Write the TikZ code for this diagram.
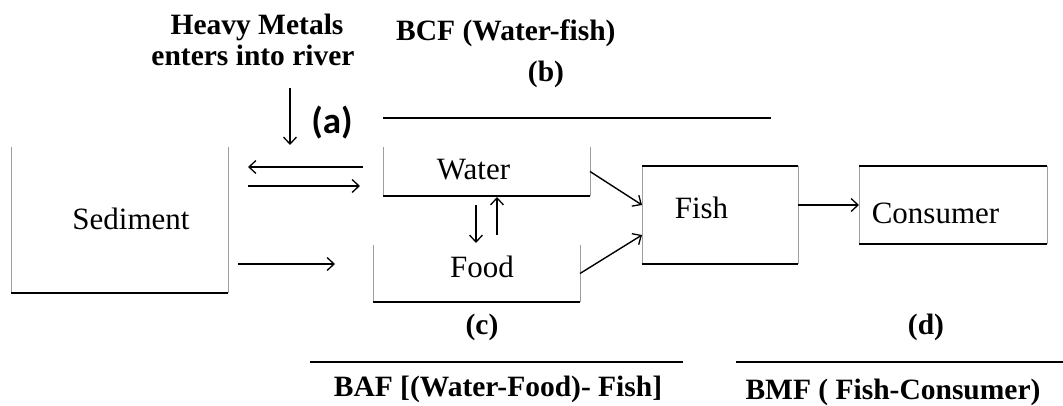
\documentclass[tikz,border=0pt]{standalone}
\usepackage{fontspec}
\setmainfont{Liberation Serif}
\newfontfamily\calib{Carlito}
\usetikzlibrary{arrows.meta,calc}
\begin{document}
\begin{tikzpicture}[x=1pt,y=-1pt,
  side/.style={draw=black!38, line width=1pt},
  rim/.style={draw=black, line width=1.3pt},
  thickrim/.style={draw=black, line width=2pt},
  box/.style={rectangle, inner sep=0pt, outer sep=0pt},
  flow/.style={-{Straight Barb[length=7pt,width=13pt,line width=1.3pt]}, line width=1.4pt},
  lbl/.style={font=\fontsize{31}{36}\selectfont, inner sep=0pt, anchor=base},
  note/.style={font=\bfseries\fontsize{29.5}{36}\selectfont, inner sep=0pt, anchor=base},
]
\useasboundingbox (0,0) rectangle (1063,406);
\fill[white] (0,0) rectangle (1063,406);

% boxes
\node[box, minimum width=217pt, minimum height=146pt] (sed) at (119.5,220) {};
\node[box, minimum width=207pt, minimum height=49pt] (water) at (486.5,171.5) {};
\node[box, minimum width=207pt, minimum height=57pt] (food) at (476.5,273.5) {};
\node[box, minimum width=156pt, minimum height=98pt] (fish) at (720,215) {};
\node[box, minimum width=188pt, minimum height=78pt] (cons) at (953,205) {};

% box borders
\draw[side] (sed.north west) -- (sed.south west);
\draw[side] (sed.north east) -- (sed.south east);
\draw[rim] (sed.south west) -- (sed.south east);
\draw[side] (water.north west) -- (water.south west);
\draw[side] (water.north east) -- (water.south east);
\draw[thickrim] (water.south west) -- (water.south east);
\draw[side] (food.north west) -- (food.south west);
\draw[side] (food.north east) -- (food.south east);
\draw[thickrim] (food.south west) -- (food.south east);
\draw[side] (fish.north west) -- (fish.south west);
\draw[side] (fish.north east) -- (fish.south east);
\draw[rim] (fish.north west) -- (fish.north east);
\draw[rim] (fish.south west) -- (fish.south east);
\draw[side] (cons.north west) -- (cons.south west);
\draw[side] (cons.north east) -- (cons.south east);
\draw[rim] (cons.north west) -- (cons.north east);
\draw[rim] (cons.south west) -- (cons.south east);

% box texts
\node[lbl] (sedt) at (131,230) {Sediment};
\node[lbl] (watert) at (473.5,180) {Water};
\node[lbl] (foodt) at (482,277) {Food};
\node[lbl] (fisht) at (701.5,219) {Fish};
\node[lbl] (const) at (935.5,224) {Consumer};

% annotations
\node[note] (hm1) at (257,35) {Heavy Metals};
\node[note] (hm2) at (253,66) {enters into river};
\node[font=\calib\bfseries\fontsize{37}{40}\selectfont, inner sep=0pt] (lbla) at (332,123) {(a)};
\node[note, anchor=base west] (bcf) at (396,41) {BCF (Water-fish)};
\node[note] (lblb) at (546,82) {(b)};
\node[note] (lblc) at (482,334) {(c)};
\node[note] (lbld) at (926,334) {(d)};
\node[note] (baf) at (498,396) {BAF [(Water-Food)- Fish]};
\node[note] (bmf) at (893,399) {BMF ( Fish-Consumer)};

% bracket lines
\coordinate (b1) at (383,118);
\coordinate (b2) at (771,118);
\draw[thickrim] (b1) -- (b2);
\coordinate (c1) at (310,362);
\coordinate (c2) at (683,362);
\draw[rim] (c1) -- (c2);
\coordinate (d1) at (736,362);
\coordinate (d2) at (1063,362);
\draw[rim] (d1) -- (d2);

% connectors
\coordinate (in1) at (290,88);
\coordinate (in2) at (290,145);
\draw[flow] (in1) -- (in2);
\draw[flow] ($(water.west)+(-20,-4.5)$) -- ($(sed.east)+(20,-53)$);
\draw[flow] ($(sed.east)+(20,-34)$) -- ($(water.west)+(-23,14.5)$);
\draw[flow] ($(sed.east)+(10,44)$) -- ($(food.west)+(-38,-9.5)$);
\draw[flow, line width=2pt] ($(water.south)+(-10.5,9)$) -- ($(food.north)+(-0.5,-2)$);
\draw[flow] ($(food.north)+(20.5,-10)$) -- ($(water.south)+(10.5,1)$);
\draw[flow] (water.east) -- ($(fish.west)+(0,-10)$);
\draw[flow] (food.east) -- ($(fish.west)+(0,20)$);
\draw[flow] ($(fish.east)+(0,-10)$) -- (cons.west);
\end{tikzpicture}
\end{document}
